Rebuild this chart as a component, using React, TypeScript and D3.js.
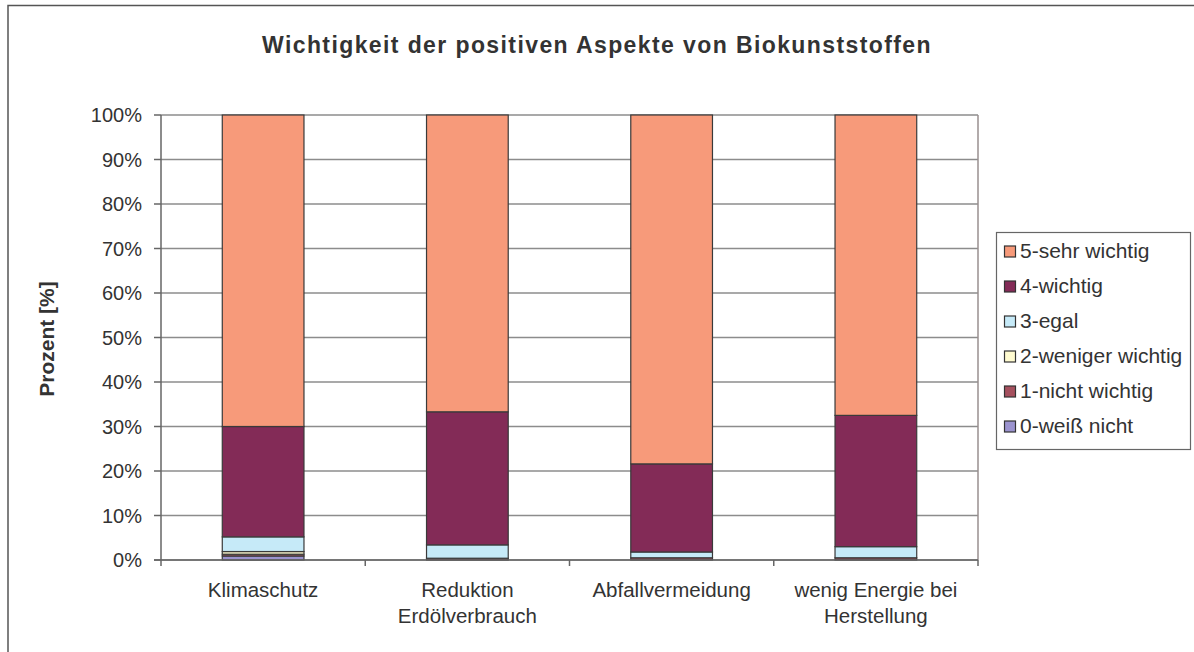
import React from "react";
import * as d3 from "d3";

const categories = ["Klimaschutz", "Reduktion\nErdölverbrauch", "Abfallvermeidung", "wenig Energie bei\nHerstellung"];
const seriesNames = ["0-weiß nicht", "1-nicht wichtig", "2-weniger wichtig", "3-egal", "4-wichtig", "5-sehr wichtig"];
const seriesColors = ["#9B93CF", "#A5505E", "#FFFBD0", "#C6EAF8", "#832B57", "#F79A7A"];
const v0 = [0.9, 0.0, 0.0, 0.0];
const v1 = [0.4, 0.4, 0.5, 0.5];
const v2 = [0.6, 0.0, 0.0, 0.0];
const v3 = [3.3, 3.0, 1.3, 2.5];
const v4 = [24.8, 29.9, 19.8, 29.5];
const v5 = [70.0, 66.7, 78.4, 67.5];
const yTicks = [0, 10, 20, 30, 40, 50, 60, 70, 80, 90, 100];

const series = [v0, v1, v2, v3, v4, v5];

export default function App() {
  const W = 1194, H = 652;
  const left = 161, right = 978, top = 115, bottom = 560;
  const x = d3.scaleBand<string>().domain(categories).range([left, right]).paddingInner(0.6).paddingOuter(0.3);
  const y = d3.scaleLinear().domain([0, 100]).range([bottom, top]);
  const catStep = (right - left) / categories.length;
  const font = "'Liberation Sans', Arial, sans-serif";
  const txt = "#333";

  const rows = categories.map((c, i) => {
    const o: any = { cat: c };
    seriesNames.forEach((s, j) => (o[s] = series[j][i]));
    return o;
  });
  const stacked = d3.stack<any>().keys(seriesNames)(rows);

  const legendY0 = 252, legendStep = 35;
  const legendOrder = [...seriesNames.keys()].reverse();

  return (
    <svg width={W} height={H} style={{ position: "absolute", left: 0, top: 0, background: "#fff" }} fontFamily={font}>
      <rect x={8} y={5.5} width={W} height={H} fill="#fff" stroke="#555" strokeWidth={1.5} />
      <text x={597} y={53} textAnchor="middle" fontSize={23} fontWeight="bold" fill={txt} letterSpacing={1.4}>
        Wichtigkeit der positiven Aspekte von Biokunststoffen
      </text>
      {/* gridlines */}
      {yTicks.map((t) => (
        <line key={t} x1={left} x2={right} y1={y(t)} y2={y(t)} stroke="#8c8c8c" strokeWidth={1.5} />
      ))}
      <line x1={right} x2={right} y1={top} y2={bottom} stroke="#998f8f" strokeWidth={1.5} />
      {/* bars */}
      {stacked.map((layer, j) =>
        layer.map((d, i) => {
          const h = y(d[0]) - y(d[1]);
          if (h <= 0) return null;
          return (
            <rect key={j + "-" + i} x={x(categories[i])} width={x.bandwidth()} y={y(d[1])} height={h}
              fill={seriesColors[j]} stroke="#3a3a3a" strokeWidth={1.2} />
          );
        })
      )}
      {/* axes */}
      <line x1={left} x2={left} y1={top} y2={bottom + 6} stroke="#666" strokeWidth={1.5} />
      <line x1={left - 7} x2={right} y1={bottom} y2={bottom} stroke="#666" strokeWidth={1.5} />
      {yTicks.map((t) => (
        <g key={"t" + t}>
          <line x1={left - 7} x2={left} y1={y(t)} y2={y(t)} stroke="#666" strokeWidth={1.5} />
          <text x={142} y={y(t) + 7} textAnchor="end" fontSize={20} fill={txt}>{t}%</text>
        </g>
      ))}
      {categories.map((c, i) => (
        <line key={"xt" + i} x1={left + catStep * (i + 1)} x2={left + catStep * (i + 1)} y1={bottom} y2={bottom + 6} stroke="#666" strokeWidth={1.5} />
      ))}
      {categories.map((c, i) => (
        <text key={"xl" + i} x={(x(c) as number) + x.bandwidth() / 2} y={597} textAnchor="middle" fontSize={20.5} fill={txt}>
          {c.split("\n").map((line, k) => (
            <tspan key={k} x={(x(c) as number) + x.bandwidth() / 2} dy={k === 0 ? 0 : 26}>{line}</tspan>
          ))}
        </text>
      ))}
      <text transform={`translate(54,339) rotate(-90)`} textAnchor="middle" fontSize={21} fontWeight="bold" fill={txt}>
        Prozent [%]
      </text>
      {/* legend */}
      <rect x={996.5} y={232.5} width={194} height={217} fill="#fff" stroke="#666" strokeWidth={1.2} />
      {legendOrder.map((j, k) => (
        <g key={"lg" + j}>
          <rect x={1004.5} y={legendY0 + k * legendStep - 6} width={11} height={11} fill={seriesColors[j]} stroke="#333" strokeWidth={1.2} />
          <text x={1020} y={legendY0 + k * legendStep + 6} fontSize={21} fill={txt}>{seriesNames[j]}</text>
        </g>
      ))}
    </svg>
  );
}
